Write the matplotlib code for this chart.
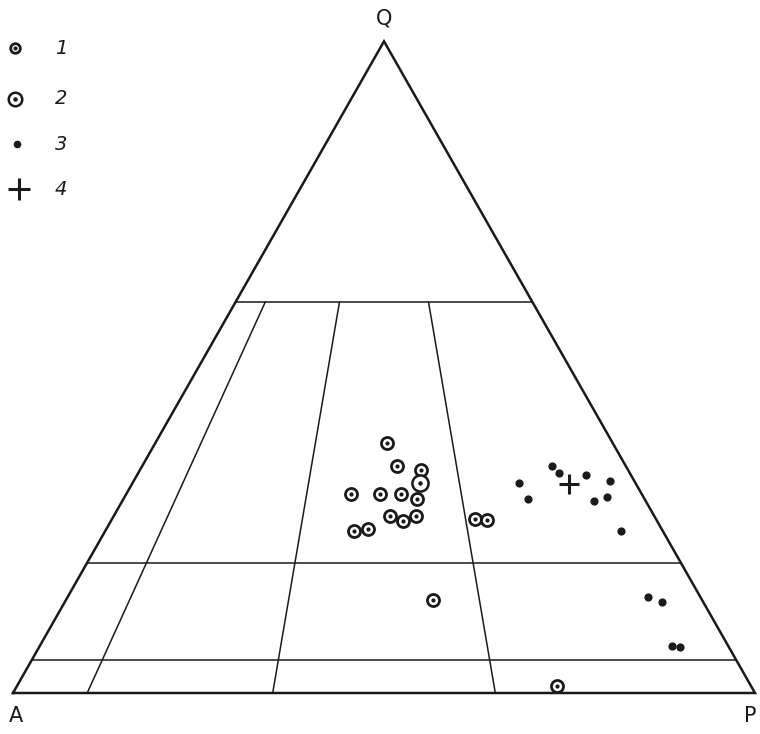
import numpy as np
import matplotlib.pyplot as plt

# uzorci: udio Q, A, P u postocima
q1 = [38.3, 34.8, 34.2, 30.5, 30.6, 30.5, 29.7, 27.1, 26.4, 27.2, 24.8, 25.2, 26.7, 26.5, 14.2, 1.1]
a1 = [30.5, 30.8, 27.9, 39.2, 35.2, 32.5, 30.7, 35.6, 34.2, 32.1, 41.7, 39.5, 24.4, 22.9, 36.3, 26.2]
p1 = [31.2, 34.4, 37.9, 30.3, 34.2, 37.0, 39.6, 37.3, 39.4, 40.7, 33.5, 35.3, 48.9, 50.6, 49.5, 72.7]

q2 = [32.3]
a2 = [29.0]
p2 = [38.7]

q3 = [32.2, 29.7, 34.9, 33.8, 33.5, 32.6, 29.5, 30.0, 24.8, 14.7, 13.9, 7.2, 7.1]
a3 = [15.7, 15.7, 9.9, 9.5, 6.0, 3.2, 6.9, 4.9, 5.6, 7.1, 5.6, 7.6, 6.5]
p3 = [52.1, 54.6, 55.2, 56.7, 60.5, 64.2, 63.6, 65.1, 69.6, 78.2, 80.5, 85.2, 86.4]

q4 = [32.1]
a4 = [9.0]
p4 = [58.9]

# granice polja: Q linije i omjeri P/(A+P)
q_lines = [60, 20, 5]
p_ratios = [10, 35, 65]
legend_labels = ['1', '2', '3', '4']


def xy(q, a, p):
    q = np.array(q, dtype=float)
    a = np.array(a, dtype=float)
    p = np.array(p, dtype=float)
    s = q + a + p
    return p / s + q / s / 2, q / s


fig = plt.figure(figsize=(7.6, 7.34), dpi=100)
ax = fig.add_axes([0, 0, 1, 1])
ax.set_xlim(-13 / 742, 747 / 742)
ax.set_ylim(-41 / 651.7, 693 / 651.7)
ax.axis('off')

k = '#1a1a1a'
# trokut
ax.plot([0, 1, 0.5, 0], [0, 0, 1, 0], color=k, lw=1.8, solid_joinstyle='miter')
# horizontalne linije
for q in q_lines:
    x0, y0 = xy([q], [100 - q], [0])
    x1, y1 = xy([q], [0], [100 - q])
    ax.plot([x0[0], x1[0]], [y0[0], y1[0]], color=k, lw=1.1)
# linije od Q=60 do baze
for r in p_ratios:
    x0, y0 = xy([60], [40 * (100 - r) / 100], [40 * r / 100])
    x1, y1 = xy([0], [100 - r], [r])
    ax.plot([x0[0], x1[0]], [y0[0], y1[0]], color=k, lw=1.1)

ax.text(0.5, 1.035, 'Q', ha='center', va='center', fontsize=15, color=k)
ax.text(0.004, -0.036, 'A', ha='center', va='center', fontsize=15, color=k)
ax.text(0.994, -0.036, 'P', ha='center', va='center', fontsize=15, color=k)

# uzorci
x, y = xy(q1, a1, p1)
ax.scatter(x, y, s=75, facecolor='white', edgecolor=k, linewidth=2.0, zorder=3)
ax.scatter(x, y, s=4, color=k, zorder=4)
x, y = xy(q2, a2, p2)
ax.scatter(x, y, s=135, facecolor='white', edgecolor=k, linewidth=1.8, zorder=3)
ax.scatter(x, y, s=5, color=k, zorder=4)
x, y = xy(q3, a3, p3)
ax.scatter(x, y, s=24, color=k, zorder=3)
x, y = xy(q4, a4, p4)
ax.scatter(x, y, s=200, marker='+', color=k, linewidth=2.2, zorder=3)

# legenda (u koordinatama slike)
def fpos(px, py):
    return px / 760, 1 - py / 734

lx = [15, 15, 17, 19]
ly = [48, 99, 144, 189]
ax2 = fig.add_axes([0, 0, 1, 1])
ax2.set_xlim(0, 1)
ax2.set_ylim(0, 1)
ax2.axis('off')
p = fpos(lx[0], ly[0])
ax2.scatter([p[0]], [p[1]], s=48, facecolor='white', edgecolor=k, linewidth=2.0)
ax2.scatter([p[0]], [p[1]], s=4, color=k, zorder=3)
p = fpos(lx[1], ly[1])
ax2.scatter([p[0]], [p[1]], s=95, facecolor='white', edgecolor=k, linewidth=1.8)
ax2.scatter([p[0]], [p[1]], s=5, color=k, zorder=3)
p = fpos(lx[2], ly[2])
ax2.scatter([p[0]], [p[1]], s=20, color=k)
p = fpos(lx[3], ly[3])
ax2.scatter([p[0]], [p[1]], s=260, marker='+', color=k, linewidth=2.2)
for lab, yy in zip(legend_labels, ly):
    p = fpos(61, yy)
    ax2.text(p[0], p[1], lab, ha='center', va='center', fontsize=14,
             style='italic', color=k)

plt.savefig('out.png', dpi=100)
